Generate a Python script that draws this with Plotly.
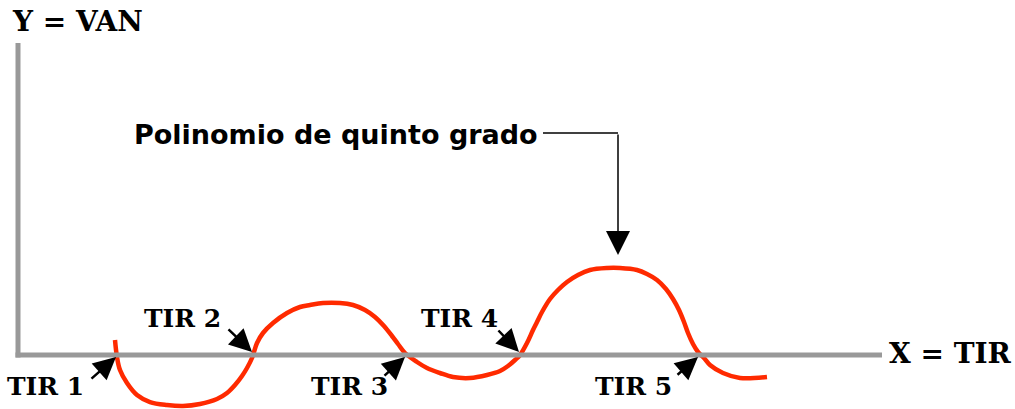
import plotly.graph_objects as go

# VAN curve (x = TIR, y = VAN, origin at the axes corner)
curve_x = [97, 99, 102, 109, 119, 132, 149, 165, 182, 199, 209, 217, 224, 229, 234, 239,
           245, 255, 269, 282, 292, 305, 322, 335, 347, 357, 366, 374, 380, 387, 399, 409,
           422, 435, 452, 469, 482, 490, 497, 502, 509, 515, 519, 524, 532, 540, 549, 560,
           572, 589, 602, 619, 629, 639, 648, 655, 661, 666, 670, 675, 680, 686, 692, 705,
           722, 749]
curve_y = [15, -2, -15, -28, -40, -47, -50, -51, -49, -44, -38, -30, -21, -13, -3, 12,
           22, 32, 42, 48, 50, 52, 52, 50, 45, 38, 29, 19, 11, 2, -7, -13,
           -18, -22, -23, -20, -16, -11, -5, 0, 12, 25, 33, 43, 56, 65, 73, 80,
           85, 87, 87, 85, 81, 75, 66, 56, 45, 33, 22, 11, 3, -3, -10, -18,
           -23, -22]

# the five roots (TIR) where the curve cuts the x axis
tir_roots = [99, 235, 388, 502, 681]
tir_labels = ["TIR 1", "TIR 2", "TIR 3", "TIR 4", "TIR 5"]

RED = "#ff2a00"
GREY = "#999999"
SERIF = "DejaVu Serif"

fig = go.Figure()
fig.add_trace(go.Scatter(
    x=curve_x, y=curve_y, mode="lines",
    line=dict(color=RED, width=4.5, shape="spline", smoothing=1.0),
    hoverinfo="skip", showlegend=False,
))

# axes drawn as an L
fig.add_shape(type="line", x0=0, x1=0, y0=-2.5, y1=312, line=dict(color=GREY, width=5))
fig.add_shape(type="line", x0=-2.5, x1=864, y0=0, y1=0, line=dict(color=GREY, width=5))

fig.add_annotation(x=59, y=334, text="<b>Y = VAN</b>", showarrow=False,
                   font=dict(family=SERIF, size=28, color="black"))
fig.add_annotation(x=932, y=2, text="<b>X = TIR</b>", showarrow=False,
                   font=dict(family=SERIF, size=28, color="black"))

# TIR labels: (label dx, label dy, arrow tail dx, arrow tail dy) relative to the root
label_layout = [(-72, -31, -27, -25), (-71, 37, -26, 27), (-57, -31, -23, -22),
                (-61, 37, -23, 26), (-66, -31, -23, -21)]
for root, lab, (ldx, ldy, adx, ady) in zip(tir_roots, tir_labels, label_layout):
    fig.add_annotation(x=root + ldx, y=ldy, text=f"<b>{lab}</b>", showarrow=False,
                       font=dict(family=SERIF, size=25, color="black"))
    tip_y = -2 if ady < 0 else 3
    fig.add_annotation(x=root - 1, y=tip_y, ax=root + adx, ay=ady, axref="x", ayref="y",
                       text="", showarrow=True, arrowhead=2, arrowsize=1.8,
                       arrowwidth=2.5, arrowcolor="black")

# "Polinomio de quinto grado" with its elbow connector
fig.add_annotation(x=114, y=221, text="<b>Polinomio de quinto grado</b>", showarrow=False,
                   xanchor="left", font=dict(family="DejaVu Sans", size=27, color="black"))
fig.add_shape(type="line", x0=525, x1=600, y0=222, y1=222, line=dict(color="black", width=1.5))
fig.add_annotation(x=600, y=100, ax=600, ay=222, axref="x", ayref="y", text="",
                   showarrow=True, arrowhead=2, arrowsize=3.2, arrowwidth=1.5,
                   arrowcolor="black")

fig.update_layout(
    width=1015, height=409,
    margin=dict(l=0, r=0, t=0, b=0),
    paper_bgcolor="white", plot_bgcolor="white",
    xaxis=dict(range=[-18, 997], visible=False, fixedrange=True),
    yaxis=dict(range=[-54, 355], visible=False, fixedrange=True),
    showlegend=False,
)

# drop the default 8px body margin so the figure fills the window
fig.write_html("out.html", config={"displayModeBar": False},
               post_script="document.body.style.margin='0';")
